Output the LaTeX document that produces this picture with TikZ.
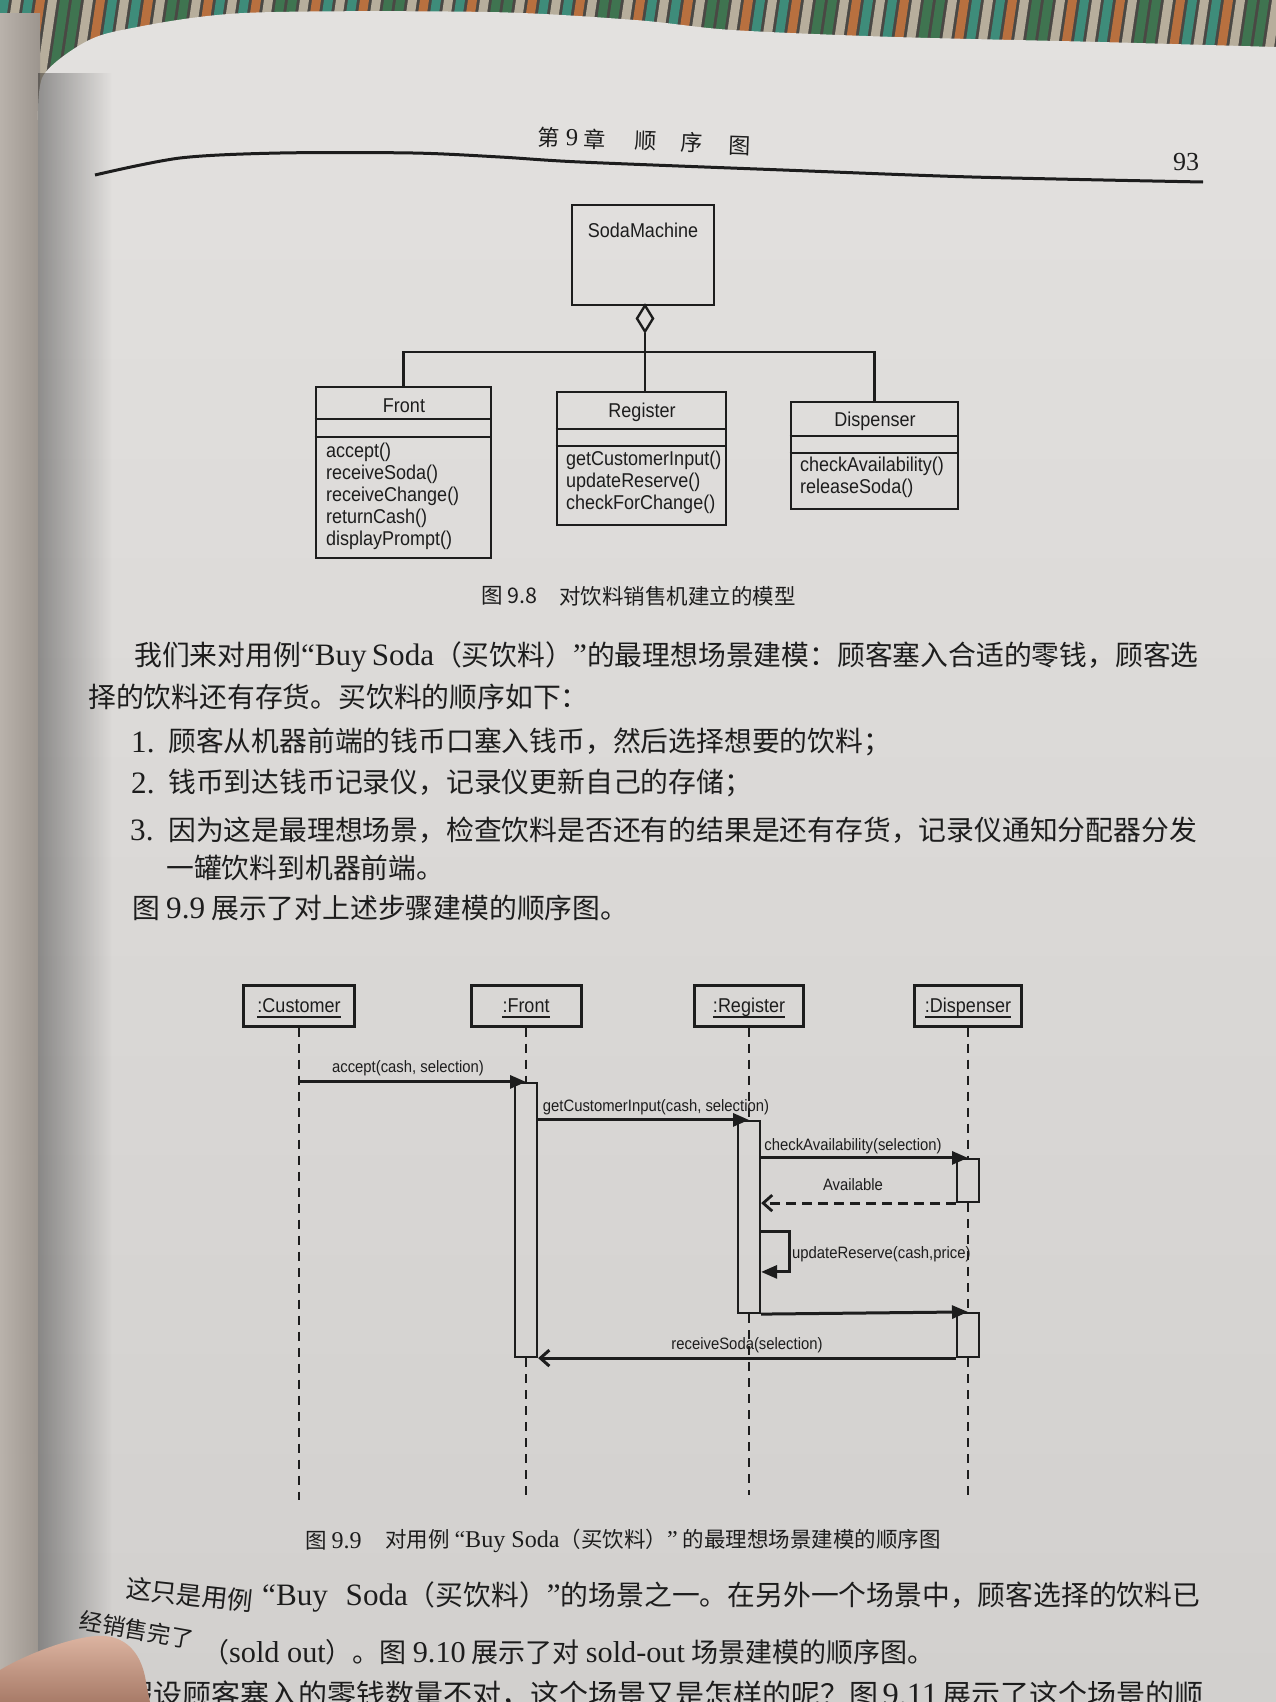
\documentclass[tikz,border=0pt]{standalone}
\usepackage{fontspec}
\setmainfont{Liberation Serif}
\newfontfamily\cjk{Noto Sans CJK SC}
\newfontfamily\latnfont{Liberation Serif}[Scale=1.12]
\newfontfamily\uml{Liberation Sans}[FakeStretch=0.9]
\usetikzlibrary{arrows.meta,fadings,shapes.geometric}

\definecolor{ink}{HTML}{1D1D1D}
\definecolor{pagetop}{HTML}{E3E1DF}
\definecolor{pagebot}{HTML}{D2D0CE}
\definecolor{lpageL}{HTML}{9C958E}
\definecolor{lpageR}{HTML}{B9B2AB}
\definecolor{thumbT}{HTML}{DDB5A2}
\definecolor{thumbB}{HTML}{A87B68}
\definecolor{fabbase}{HTML}{4A4844}
\definecolor{fab0}{HTML}{3E8C7A}
\definecolor{fab1}{HTML}{2A3154}
\definecolor{fab2}{HTML}{CFC9BA}
\definecolor{fab3}{HTML}{B8703F}
\definecolor{fab4}{HTML}{C9A53E}
\definecolor{fab5}{HTML}{6A5040}
\definecolor{fab6}{HTML}{3F7450}
\definecolor{fab7}{HTML}{8F8B82}
\definecolor{fab8}{HTML}{B7AE9C}

\newcommand\latn[1]{{\latnfont #1}}

\begin{document}
\begin{tikzpicture}[x=1pt,y=-1pt,
  body/.style={anchor=west,inner sep=0pt,text=ink,font=\cjk\fontsize{27.8}{30}\selectfont},
  bodybig/.style={anchor=west,inner sep=0pt,text=ink,font=\cjk\fontsize{28.5}{31}\selectfont},
  hdr/.style={inner sep=0pt,text=ink,rotate=-2,font=\cjk\fontsize{22}{24}\selectfont},
  figcap/.style={anchor=west,inner sep=0pt,text=ink,font=\cjk\fontsize{21.5}{24}\selectfont},
  cls/.style={draw=ink,line width=2.8pt,inner sep=0pt},
  div/.style={draw=ink,line width=2.2pt},
  cname/.style={inner sep=0pt,text=ink,font=\uml\fontsize{20}{22}\selectfont},
  meth/.style={inner sep=0pt,anchor=west,align=left,text=ink,font=\uml\fontsize{20}{22}\selectfont},
  assoc/.style={draw=ink,line width=2.6pt},
  agg/.style={diamond,draw=ink,line width=2.4pt,inner sep=0pt,minimum width=17pt,minimum height=27pt},
  headbox/.style={draw=ink,line width=3pt,inner sep=0pt,minimum height=41pt},
  headtxt/.style={inner sep=0pt,anchor=base,text=ink,font=\uml\fontsize{20}{22}\selectfont},
  uline/.style={draw=ink,line width=2pt},
  life/.style={draw=ink,line width=2.8pt,dash pattern=on 9pt off 7pt},
  act/.style={draw=ink,line width=2.2pt,inner sep=0pt,minimum width=22pt},
  msg/.style={draw=ink,line width=3pt,-{Triangle[length=16pt,width=13pt]}},
  ret/.style={draw=ink,line width=2.8pt,dash pattern=on 10pt off 6pt,-{Straight Barb[length=9pt,width=16pt]}},
  reply/.style={draw=ink,line width=3pt,-{Straight Barb[length=9pt,width=16pt]}},
  mlabel/.style={inner sep=0pt,text=ink,font=\uml\fontsize{16.5}{18}\selectfont}]

\useasboundingbox (0,0) rectangle (1276,1702);

% woven cloth under the book
\fill[fabbase] (0,0) rectangle (1276,95);
\foreach \i in {0,...,112}{
  \pgfmathtruncatemacro\k{mod(\i*7+\i*\i,9)}
  \fill[color=fab\k] (\i*12,0) -- ++(9,0) -- ++(-14,95) -- ++(-9,0) -- cycle;
}

% facing page and the page itself
\shade[left color=lpageR,right color=lpageL] (0,14) rectangle (40,1702);
\shade[top color=pagetop,bottom color=pagebot]
  plot[smooth] coordinates {(38,120)(43,76)(80,45)(122,30)(244,13)(488,12)(635,20)(732,30)(895,37)(1100,42)(1276,47)}
  -- (1276,1702) -- (38,1702) -- cycle;
\fill[black,opacity=0.36,path fading=east] (38,70) rectangle (112,1702);

% running head
\node[hdr] (h1) at (549,137) {第};
\node[hdr] (h2) at (572,138) {\latn{9}};
\node[hdr] (h3) at (595,139) {章};
\node[hdr] (h4) at (646,141) {顺};
\node[hdr] (h5) at (692,143) {序};
\node[hdr] (h6) at (740,146) {图};
\node[inner sep=0pt,text=ink,font=\fontsize{26}{28}\selectfont] (pg) at (1186,162) {93};
\draw[ink,line width=3pt] plot[smooth] coordinates {(95,175)(180,158)(280,153)(413,153)(500,157)(580,162)(783,170)(972,177)(1203,182)};

% class model
\node[cls,minimum width=142pt,minimum height=100pt] (sm) at (643,255) {};
\node[cname] (smT) at (643,230) {SodaMachine};
\node[agg] (agg) at (645,318.5) {};

\node[cls,minimum width=175pt,minimum height=171pt] (front) at (403.5,472.5) {};
\node[cname] (frT) at (404,406) {Front};
\draw[div] ([yshift=-33pt]front.north west) -- ([yshift=-33pt]front.north east);
\draw[div] ([yshift=-51pt]front.north west) -- ([yshift=-51pt]front.north east);
\node[meth] (frM) at (326,496) {accept()\\receiveSoda()\\receiveChange()\\returnCash()\\displayPrompt()};

\node[cls,minimum width=169pt,minimum height=133pt] (register) at (641.5,458.5) {};
\node[cname] (rgT) at (642,412) {Register};
\draw[div] ([yshift=-38pt]register.north west) -- ([yshift=-38pt]register.north east);
\draw[div] ([yshift=-55pt]register.north west) -- ([yshift=-55pt]register.north east);
\node[meth] (rgM) at (566,482) {getCustomerInput()\\updateReserve()\\checkForChange()};

\node[cls,minimum width=167pt,minimum height=107pt] (dispenser) at (874.5,455.5) {};
\node[cname] (dsT) at (875,421) {Dispenser};
\draw[div] ([yshift=-35pt]dispenser.north west) -- ([yshift=-35pt]dispenser.north east);
\draw[div] ([yshift=-52pt]dispenser.north west) -- ([yshift=-52pt]dispenser.north east);
\node[meth] (dsM) at (800,477) {checkAvailability()\\releaseSoda()};

\coordinate (bus) at (645,352);
\draw[assoc] (agg.south) -- (agg.south |- register.north);
\draw[assoc] (front.north) |- (bus) -| (dispenser.north);

\node[figcap] (c8a) at (481,596) {图 9.8};
\node[figcap] (c8b) at (559,596) {对饮料销售机建立的模型};

% body text
\node[body] (l1) at (134,657) {\makebox[1062pt][s]{我们来对用例\latn{“Buy Soda}（买饮料）\latn{”}的最理想场景建模：顾客塞入合适的零钱，顾客选}};
\node[body] (l2) at (88,697) {择的饮料还有存货。买饮料的顺序如下：};
\node[body] (n1) at (131,742) {\latn{1.}};
\node[body] (i1) at (168,742) {顾客从机器前端的钱币口塞入钱币，然后选择想要的饮料；};
\node[body] (n2) at (131,783) {\latn{2.}};
\node[body] (i2) at (168,783) {钱币到达钱币记录仪，记录仪更新自己的存储；};
\node[body] (n3) at (130,830) {\latn{3.}};
\node[body] (i3) at (168,830) {\makebox[1029pt][s]{因为这是最理想场景，检查饮料是否还有的结果是还有存货，记录仪通知分配器分发}};
\node[body] (i3b) at (166,868) {一罐饮料到机器前端。};
\node[body] (l3) at (132,908) {图 \latn{9.9} 展示了对上述步骤建模的顺序图。};

% sequence diagram: heads
\node[headbox,minimum width=111pt] (cust) at (299,1005.5) {};
\node[headbox,minimum width=110pt] (frontH) at (526,1005.5) {};
\node[headbox,minimum width=109pt] (regH) at (749,1005.5) {};
\node[headbox,minimum width=107pt] (dispH) at (968,1005.5) {};
\node[headtxt] (custT) at (299,1012.5) {:Customer};
\node[headtxt] (frontT) at (526,1012.5) {:Front};
\node[headtxt] (regT) at (749,1012.5) {:Register};
\node[headtxt] (dispT) at (968,1012.5) {:Dispenser};
\foreach \t in {custT,frontT,regT,dispT}
  \draw[uline] ([yshift=-4.5pt]\t.base west) -- ([yshift=-4.5pt]\t.base east);

% activations
\node[act,minimum height=274pt] (frontAct) at (526,1220) {};
\node[act,minimum height=192pt] (regAct) at (749,1217) {};
\node[act,minimum height=43pt] (dispAct1) at (968,1180.5) {};
\node[act,minimum height=44pt] (dispAct2) at (968,1335) {};

% lifelines
\coordinate (custEnd) at (299,1500);
\coordinate (frontEnd) at (526,1502);
\coordinate (regEnd) at (749,1495);
\coordinate (dispEnd) at (968,1495);
\draw[life] (cust.south) -- (custEnd);
\draw[life] (frontH.south) -- (frontAct.north);
\draw[life] (frontAct.south) -- (frontEnd);
\draw[life] (regH.south) -- (regAct.north);
\draw[life] (regAct.south) -- (regEnd);
\draw[life] (dispH.south) -- (dispAct1.north);
\draw[life] (dispAct1.south) -- (dispAct2.north);
\draw[life] (dispAct2.south) -- (dispEnd);

% messages
\draw[msg] (cust.south |- frontAct.north) -- (frontAct.north);
\node[mlabel] (m1) at (408,1068) {accept(cash, selection)};
\draw[msg] (frontAct.east |- regAct.north) -- (regAct.north);
\node[mlabel] (m2) at (656,1107) {getCustomerInput(cash, selection)};
\draw[msg] (regAct.east |- dispAct1.north) -- (dispAct1.north);
\node[mlabel] (m3) at (853,1146) {checkAvailability(selection)};
\draw[ret] (dispAct1.south west) -- (regAct.east |- dispAct1.south);
\node[mlabel] (m4) at (853,1185) {Available};
\draw[msg] ([yshift=-112pt]regAct.north east) -- ++(28,0) -- ++(0,40) -- ([yshift=-152pt]regAct.north east);
\node[mlabel,anchor=west] (m5) at (792,1254) {updateReserve(cash,price)};
\draw[msg] (regAct.south east) -- (dispAct2.north);
\draw[reply] (dispAct2.south west) -- (frontAct.east |- dispAct2.south);
\node[mlabel] (m6) at (747,1345) {receiveSoda(selection)};

\node[figcap] (c9a) at (305,1541) {图 \latn{9.9}};
\node[figcap] (c9b) at (385,1541) {对用例 \latn{“Buy Soda}（买饮料）\latn{”} 的最理想场景建模的顺序图};

% following paragraph, bent where the page curls near the thumb
\node[bodybig,font=\cjk\fontsize{25.5}{27}\selectfont,rotate=-6] (pA1) at (126,1588) {这只是用例};
\node[bodybig,font=\cjk\fontsize{27.8}{30}\selectfont] (pA2) at (262,1597) {\makebox[938pt][s]{\latn{“Buy Soda}（买饮料）\latn{”}的场景之一。在另外一个场景中，顾客选择的饮料已}};
\node[bodybig,font=\cjk\fontsize{23}{25}\selectfont,rotate=-10] (pB1) at (80,1620) {经销售完了};
\node[bodybig,font=\cjk\fontsize{27}{30}\selectfont] (pB2) at (202,1652) {（\latn{sold out}）。图 \latn{9.10} 展示了对 \latn{sold-out} 场景建模的顺序图。};
\node[bodybig,font=\cjk\fontsize{29}{31}\selectfont] (pC) at (124,1695) {\makebox[1077pt][s]{假设顾客塞入的零钱数量不对，这个场景又是怎样的呢？图 \latn{9.11} 展示了这个场景的顺}};

% thumb holding the page
\shade[top color=thumbT,bottom color=thumbB]
  (0,1670) .. controls (30,1652) and (80,1634) .. (105,1636)
  .. controls (128,1638) and (142,1655) .. (146,1682) -- (150,1702) -- (0,1702) -- cycle;
\end{tikzpicture}
\end{document}
